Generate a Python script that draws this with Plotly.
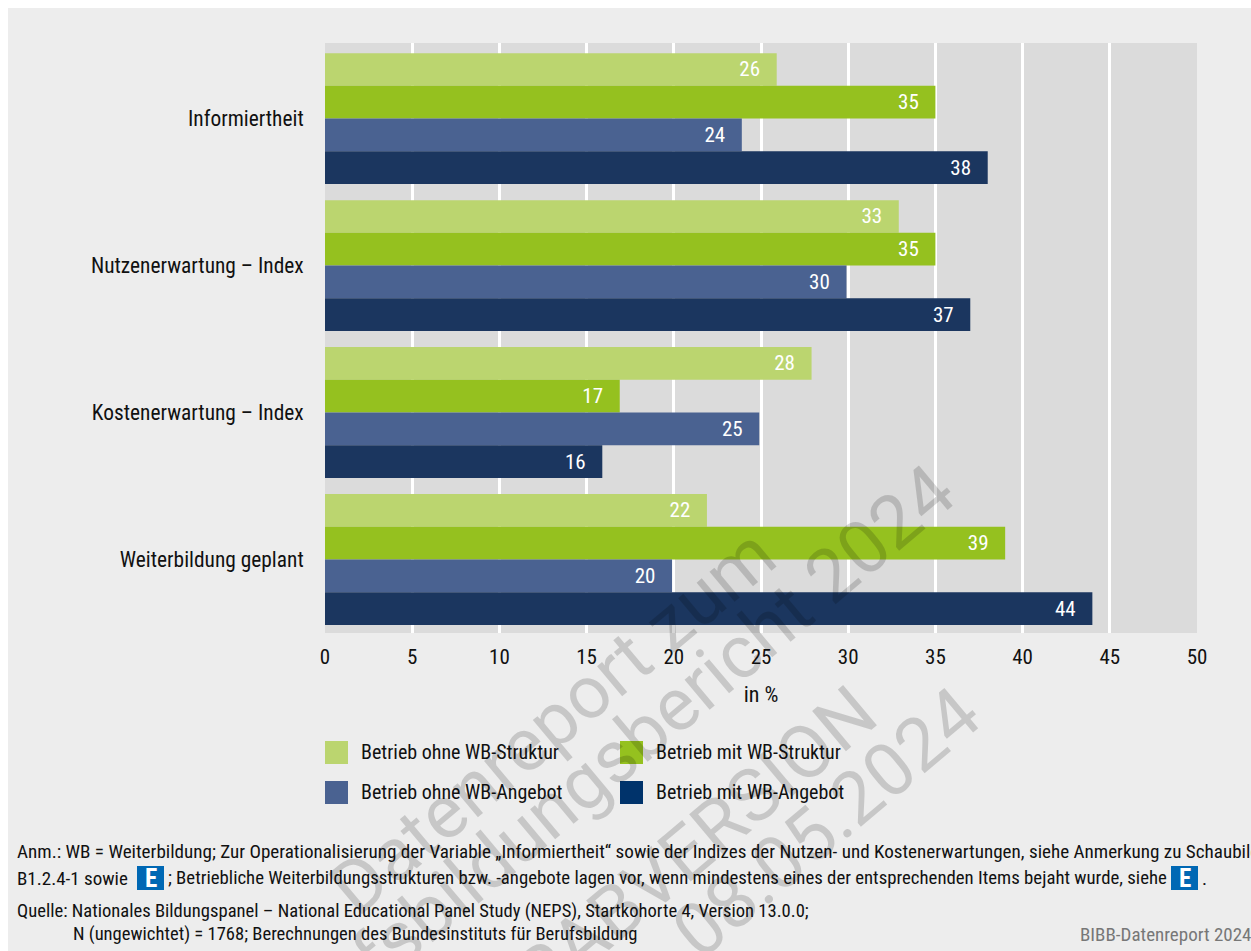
import plotly.graph_objects as go

categories = ["Informiertheit", "Nutzenerwartung – Index", "Kostenerwartung – Index", "Weiterbildung geplant"]
series_names = ["Betrieb ohne WB-Struktur", "Betrieb mit WB-Struktur", "Betrieb ohne WB-Angebot", "Betrieb mit WB-Angebot"]
ohne_struktur = [25.9, 32.9, 27.9, 21.9]
mit_struktur = [35, 35, 16.9, 39]
ohne_angebot = [23.9, 29.9, 24.9, 19.9]
mit_angebot = [38, 37, 15.9, 44]
colors = ["#bbd56f", "#95c11f", "#4a6291", "#1b365f"]
legend_colors = ["#bbd56f", "#95c11f", "#4a6291", "#00336b"]
x_ticks = [0, 5, 10, 15, 20, 25, 30, 35, 40, 45, 50]

FONT = "Roboto Condensed"
W, H = 1251, 951
L, R, T, B = 325, 1197, 43, 633
def px(x): return (x - L) / (R - L)
def py(y): return 1 - (y - T) / (B - T)

fig = go.Figure()
for name, vals, col in zip(series_names, [ohne_struktur, mit_struktur, ohne_angebot, mit_angebot], colors):
    fig.add_trace(go.Bar(
        y=categories, x=vals, name=name, orientation="h", marker=dict(color=col, line=dict(width=0)),
        texttemplate="%{x:.0f}\u00a0\u00a0\u2009", textposition="inside", insidetextanchor="end",
        textangle=0, constraintext="none", insidetextfont=dict(color="white", size=21, family=FONT),
        showlegend=False,
    ))

anns = []
def text(x, y, s, size=19, color="#111111", xanchor="left"):
    x = x - 2 if xanchor == "left" else x + 2
    anns.append(dict(x=px(x), y=py(y), xref="paper", yref="paper", text=s, showarrow=False, xanchor=xanchor,
                     yanchor="middle", font=dict(family=FONT, size=size, color=color), align="left"))

shapes = [
    dict(type="rect", xref="paper", yref="paper", layer="below", x0=px(8), x1=px(1260), y0=py(8), y1=py(960),
         fillcolor="#ededed", line=dict(width=0)),
    dict(type="rect", xref="paper", yref="paper", layer="below", x0=0, x1=1, y0=0, y1=1,
         fillcolor="#dbdbdb", line=dict(width=0)),
]
for (x, y), c, n in zip([(325, 741), (620, 741), (325, 781), (620, 781)], legend_colors, series_names):
    shapes.append(dict(type="rect", xref="paper", yref="paper", x0=px(x), x1=px(x + 23), y0=py(y), y1=py(y + 23),
                       fillcolor=c, line=dict(width=0)))
    text(x + 36, y + 11, n, size=20)

text(17, 851, "Anm.: WB = Weiterbildung; Zur Operationalisierung der Variable „Informiertheit“ sowie der Indizes der Nutzen- und Kostenerwartungen, siehe Anmerkung zu Schaubild", size=19.1)
text(17, 878, "B1.2.4-1 sowie")
text(168, 878, "; Betriebliche Weiterbildungsstrukturen bzw. -angebote lagen vor, wenn mindestens eines der entsprechenden Items bejaht wurde, siehe", size=18.8)
text(1202, 878, ".")
text(17, 911, "Quelle: Nationales Bildungspanel – National Educational Panel Study (NEPS), Startkohorte 4, Version 13.0.0;", size=18.6)
text(73, 934, "N (ungewichtet) = 1768; Berechnungen des Bundesinstituts für Berufsbildung", size=18.6)
text(1251, 934, "BIBB-Datenreport 2024", color="#777777", xanchor="right")

for x in (137, 1171):
    shapes.append(dict(type="rect", xref="paper", yref="paper", x0=px(x), x1=px(x + 27), y0=py(866), y1=py(890),
                       fillcolor="#0068b4", line=dict(width=0)))
    anns.append(dict(x=px(x + 13.5), y=py(878), xref="paper", yref="paper", text="<b>E</b>", showarrow=False,
                     xanchor="center", yanchor="middle", font=dict(family=FONT, size=25, color="white")))

# watermark
for cx, cy, s in [(552, 721, "Datenreport zum"), (595, 772, "Berufsbildungsbericht 2024"),
                  (658, 875, "VORABVERSION"), (826, 822, "08.05.2024")]:
    anns.append(dict(x=px(cx), y=py(cy), xref="paper", yref="paper", text=s, showarrow=False, textangle=-40,
                     xanchor="center", yanchor="middle",
                     font=dict(family="Roboto", size=74, color="rgba(0,0,0,0.16)")))

fig.update_layout(
    width=W, height=H, autosize=False, barmode="group", bargap=0.11, bargroupgap=0,
    paper_bgcolor="white", plot_bgcolor="rgba(0,0,0,0)", margin=dict(l=L, r=W - R, t=T, b=H - B),
    font=dict(family=FONT, color="#111111", size=21),
    xaxis=dict(range=[0, 50], tickvals=x_ticks, showgrid=True, gridcolor="white", gridwidth=2.5, zeroline=False,
               ticks="outside", ticklen=5, tickcolor="rgba(0,0,0,0)", showline=False,
               title=dict(text="in %", font=dict(size=22), standoff=18)),
    yaxis=dict(categoryorder="array", categoryarray=categories, range=[3.5, -0.514], showgrid=False, zeroline=False,
               ticks="outside", ticklen=16, tickcolor="rgba(0,0,0,0)", showline=False,
               tickfont=dict(size=21.4)),
    annotations=anns, shapes=shapes,
)
fig.write_html("out.html", config={"displayModeBar": False},
               post_script="document.body.style.margin='0';document.documentElement.style.overflow='hidden';")
